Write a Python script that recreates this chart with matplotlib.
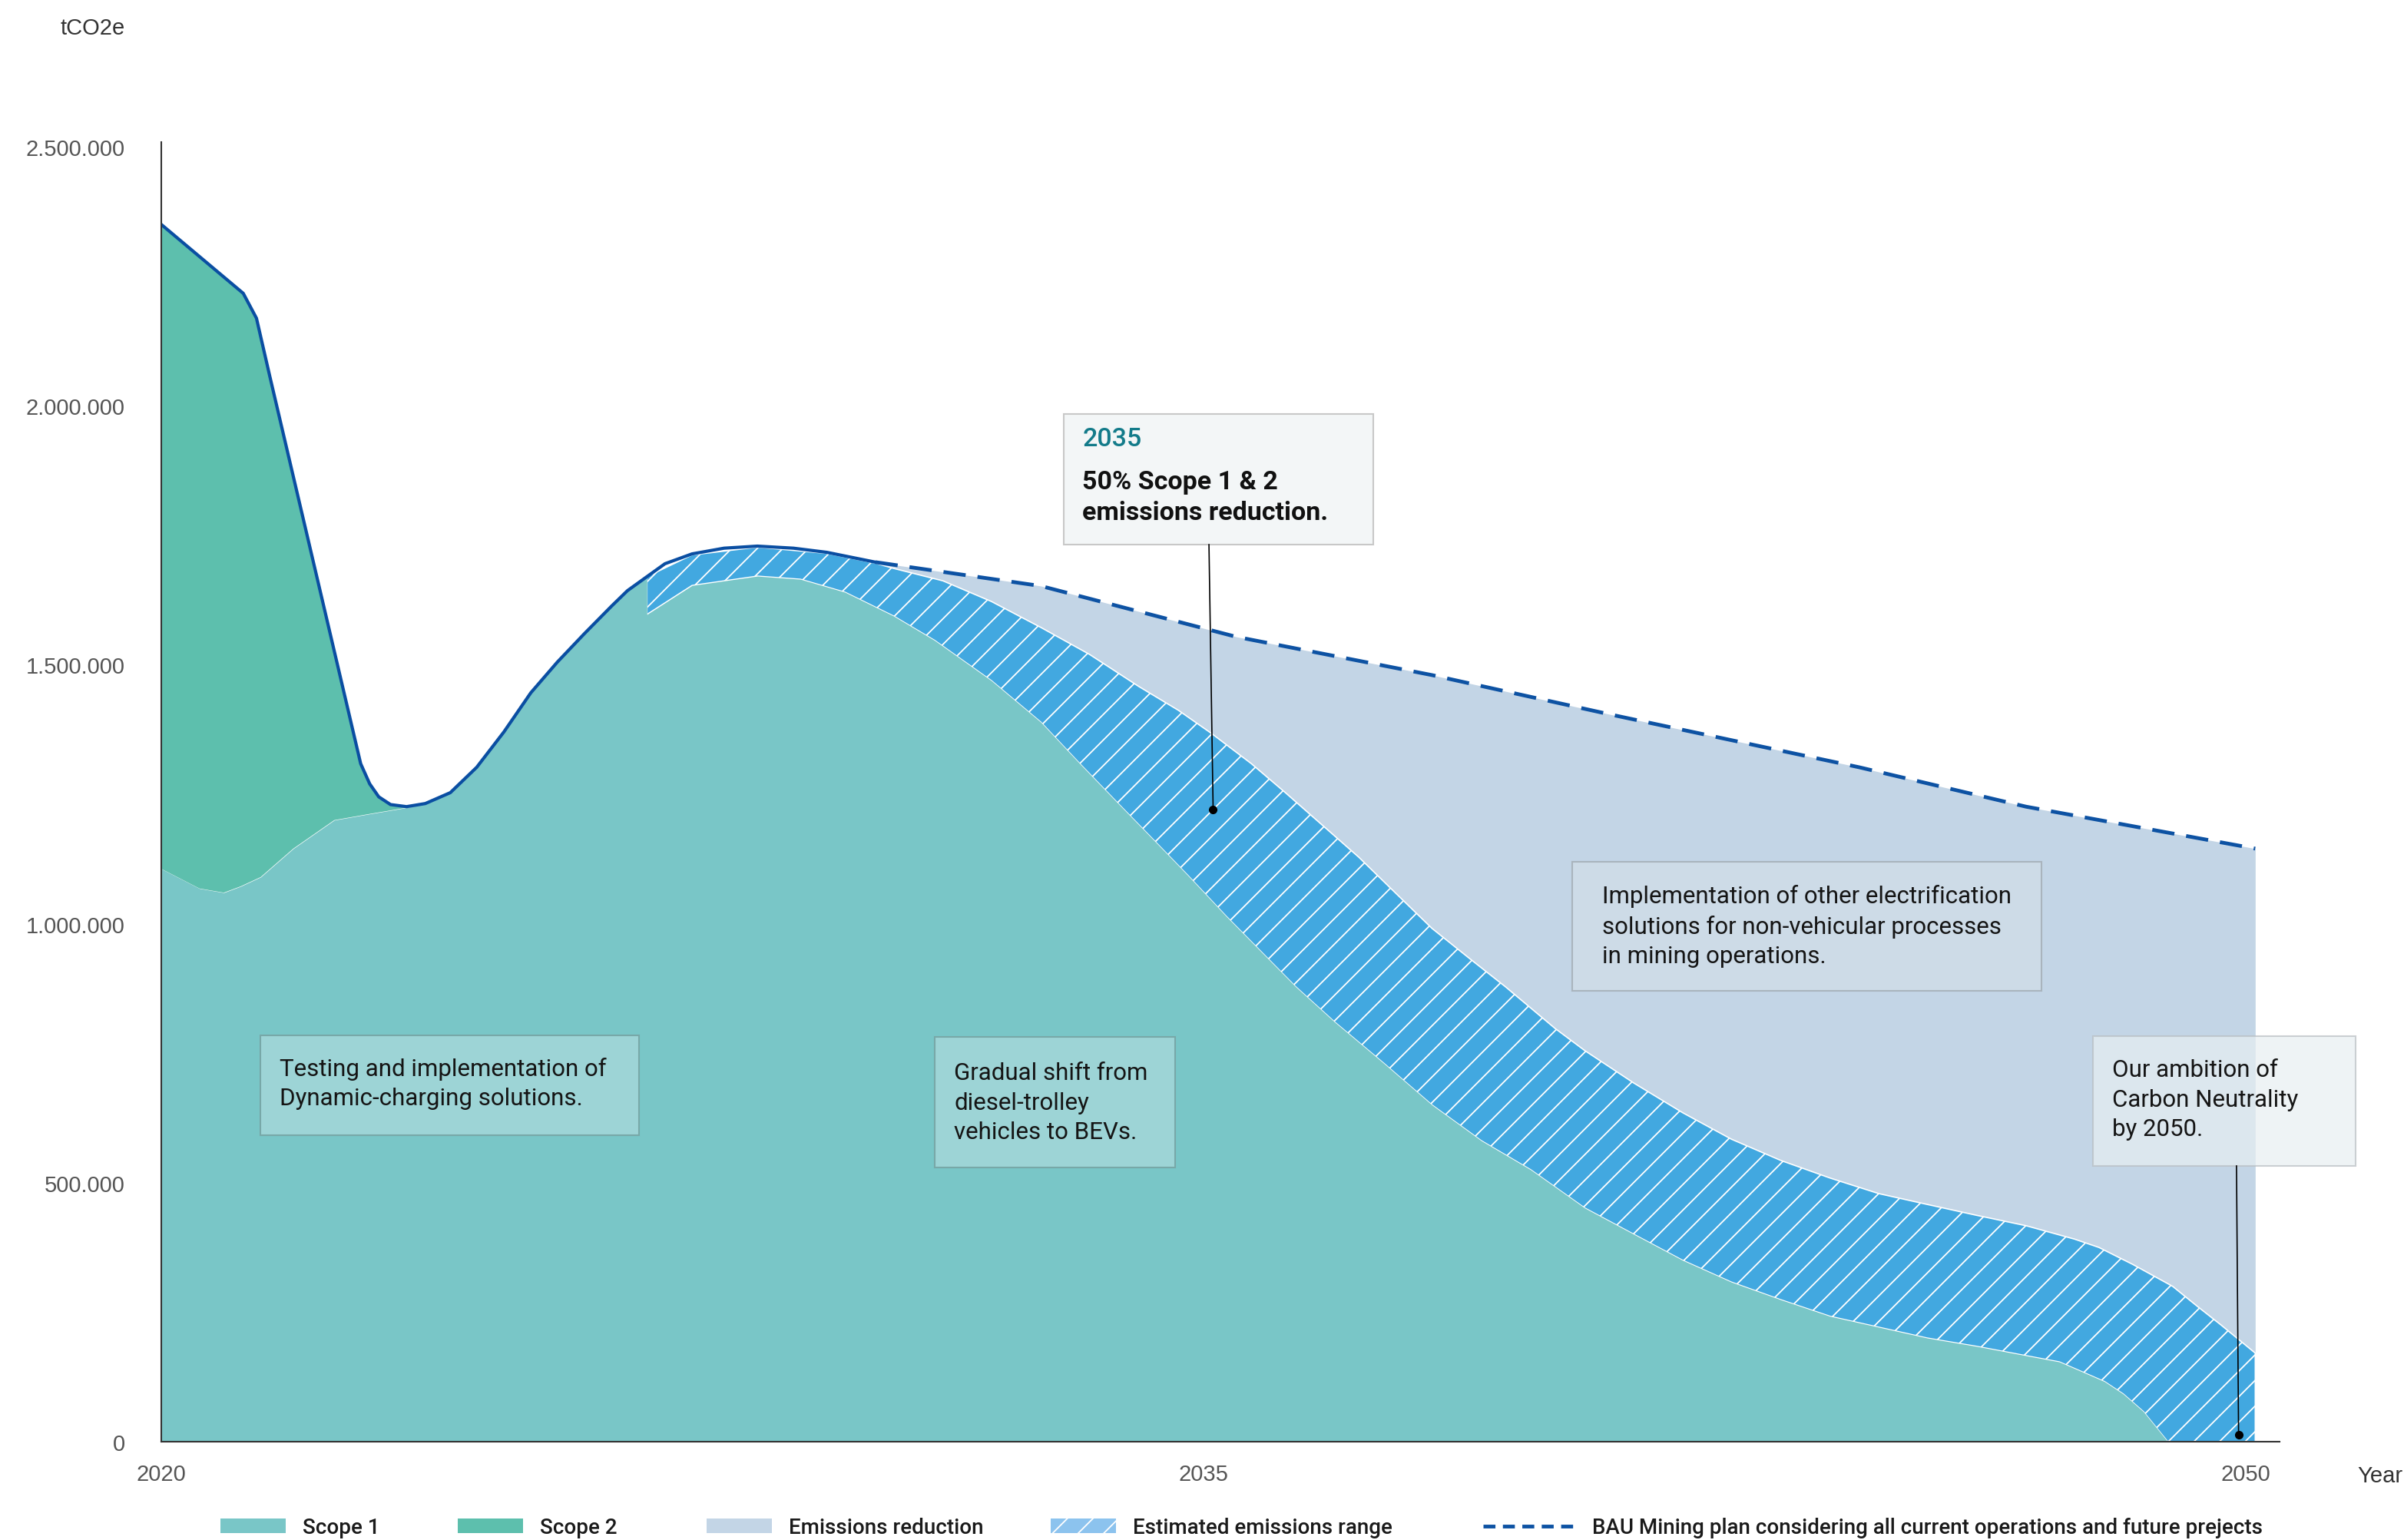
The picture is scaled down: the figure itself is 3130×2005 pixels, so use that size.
import matplotlib
matplotlib.use("Agg")
import matplotlib.pyplot as plt
from matplotlib.patches import Patch, Rectangle
from matplotlib.lines import Line2D

# ---- data (tCO2e, years) ----
total_years = [2020.0, 2021.18, 2021.37, 2021.56, 2022.87, 2023.0, 2023.13, 2023.3, 2023.53,
               2023.8, 2024.16, 2024.54, 2024.93, 2025.32, 2025.7, 2026.09, 2026.48, 2026.71,
               2026.99, 2027.25, 2027.64, 2028.1, 2028.58, 2029.1, 2029.58, 2030.28]
total_vals = [2350000, 2217000, 2169000, 2058000, 1309000, 1270000, 1245000, 1230000, 1226000,
              1232000, 1253000, 1302000, 1370000, 1446000, 1505000, 1560000, 1613000, 1643000,
              1670000, 1695000, 1714000, 1725000, 1729000, 1725000, 1717000, 1698000]

bau_years = [2030.28, 2032.66, 2035.47, 2038.29, 2040.89, 2044.44, 2046.84, 2050.14]
bau_vals = [1698000, 1652000, 1554000, 1480000, 1403000, 1302000, 1226000, 1145000]

scope1_years = [2020.0, 2020.55, 2020.9, 2021.14, 2021.43, 2021.9, 2022.49, 2023.0, 2023.53,
                2023.8, 2024.16, 2024.54, 2024.93, 2025.32, 2025.7, 2026.09, 2026.48, 2026.71,
                2026.99, 2026.99, 2027.64, 2028.58, 2029.2, 2029.84, 2030.54, 2031.13, 2031.95,
                2032.66, 2033.22, 2033.78, 2034.28, 2034.77, 2035.33, 2035.83, 2036.33, 2036.89,
                2037.6, 2038.29, 2039.0, 2039.71, 2040.49, 2041.2, 2041.9, 2042.6, 2043.31,
                2044.02, 2044.72, 2045.42, 2046.13, 2046.84, 2047.32, 2047.68, 2047.97, 2048.24,
                2048.53, 2048.88, 2050.14]
scope1_vals = [1106000, 1068000, 1060000, 1072000, 1090000, 1145000, 1200000, 1212000, 1224000,
               1232000, 1253000, 1302000, 1370000, 1446000, 1505000, 1560000, 1613000, 1643000,
               1670000, 1597000, 1653000, 1671000, 1665000, 1640000, 1594000, 1547000, 1469000,
               1389000, 1309000, 1231000, 1162000, 1094000, 1014000, 946000, 878000, 810000,
               730000, 650000, 581000, 525000, 451000, 400000, 350000, 308000, 274000,
               242000, 221000, 200000, 184000, 166000, 154000, 133000, 116000, 92000,
               58000, 0, 0]

range_years = [2026.99, 2027.64, 2028.58, 2029.58, 2030.28, 2030.54, 2031.25, 2031.95, 2032.66,
               2033.36, 2034.07, 2034.64, 2035.12, 2035.69, 2036.18, 2037.24, 2037.76, 2038.29,
               2038.82, 2039.35, 2040.06, 2040.49, 2041.2, 2041.9, 2042.6, 2043.31, 2044.02,
               2044.72, 2045.42, 2046.13, 2046.84, 2047.54, 2047.89, 2048.38, 2048.95, 2049.3,
               2049.65, 2050.14]
range_upper = [1670000, 1712000, 1727000, 1715000, 1696000, 1686000, 1662000, 1622000, 1572000,
               1520000, 1458000, 1412000, 1367000, 1309000, 1253000, 1128000, 1060000, 991000,
               934000, 878000, 798000, 755000, 692000, 635000, 584000, 543000, 509000,
               479000, 458000, 437000, 417000, 391000, 375000, 342000, 300000, 262000,
               225000, 171000]

y_ticks = [0, 500000, 1000000, 1500000, 2000000, 2500000]
x_ticks = [2020, 2035, 2050]

c_scope1 = "#79c6c7"
c_scope2 = "#5dbfad"
c_reduction = "#c3d5e6"
c_range = "#42a8e0"
c_line = "#0a4ea2"

FONT = ["Roboto", "DejaVu Sans"]
TICKFONT = ["Liberation Sans", "DejaVu Sans"]
plt.rcParams["hatch.linewidth"] = 1.3

fig = plt.figure(figsize=(31.3, 20.06), dpi=100)
ax = fig.add_axes([0.06709, 0.06381, 0.88115, 0.84347])

# emissions reduction (under BAU)
ax.fill_between(bau_years, bau_vals, 0, color=c_reduction, linewidth=0, zorder=1)

# estimated emissions range: hatched band between scope 1 and the upper bound
lower_pts = [(x, y) for x, y in zip(scope1_years, scope1_vals) if x >= 2026.99][1:]
band = list(zip(range_years, range_upper)) + lower_pts[::-1]
ax.fill([p[0] for p in band], [p[1] for p in band], facecolor=c_range, edgecolor="white",
        hatch="/", linewidth=1.2, zorder=2)

# scope 1
ax.fill_between(scope1_years, scope1_vals, 0, color=c_scope1, linewidth=0, zorder=3)

# scope 2 (between scope 1 and total, early years)
n2 = total_years.index(2023.53)
m2 = scope1_years.index(2023.53)
px = total_years[:n2 + 1] + scope1_years[:m2 + 1][::-1]
py = total_vals[:n2 + 1] + scope1_vals[:m2 + 1][::-1]
ax.fill(px, py, color=c_scope2, linewidth=0, zorder=3)

# lines
ax.plot(total_years, total_vals, color=c_line, lw=3, zorder=5, solid_joinstyle="round")
ax.plot(bau_years, bau_vals, color="#0d52a3", lw=3.5, dashes=(6, 3.2), zorder=5)

# axes styling
ax.set_xlim(2020, 2050.49)
ax.set_ylim(0, 2509000)
for s in ["top", "right"]:
    ax.spines[s].set_visible(False)
for s in ["left", "bottom"]:
    ax.spines[s].set_color("#333333")
    ax.spines[s].set_linewidth(1.5)
    ax.spines[s].set_zorder(6)
ax.set_yticks(y_ticks)
ax.set_yticklabels([f"{v:,.0f}".replace(",", ".") for v in y_ticks])
ax.set_xticks(x_ticks)
ax.set_xticklabels([str(v) for v in x_ticks])
ax.tick_params(axis="y", length=0, pad=34, labelsize=21, labelcolor="#555555")
ax.tick_params(axis="x", length=0, pad=20, labelsize=21, labelcolor="#555555")
for lab in ax.get_xticklabels() + ax.get_yticklabels():
    lab.set_family(TICKFONT)

fig.text(0.0521, 0.9816, "tCO2e", ha="right", va="center", fontsize=21, color="#333333",
         family=TICKFONT)
fig.text(0.9994, 0.0419, "Year", ha="right", va="center", fontsize=21, color="#333333",
         family=TICKFONT)


# annotation boxes
def box(x0, x1, y0, y1, face, edge, alpha=1.0):
    ax.add_patch(Rectangle((x0, y0), x1 - x0, y1 - y0, facecolor=face, edgecolor=edge,
                           linewidth=1.5, alpha=alpha, zorder=7, clip_on=False))


def note(x, y, s):
    ax.text(x, y, s, fontsize=22.5, family=FONT, color="#151515",
            va="center", ha="left", linespacing=1.42, zorder=8, clip_on=False)


box(2021.43, 2026.88, 591637, 784401, "#9dd4d6", "#78a8a8")
note(2021.70, 692468, "Testing and implementation of\nDynamic-charging solutions.")

box(2031.13, 2034.59, 529360, 781436, "#9dd4d6", "#78a8a8")
note(2031.41, 655398, "Gradual shift from\ndiesel-trolley\nvehicles to BEVs.")

box(2040.31, 2047.06, 870404, 1119514, "#cddbe7", "#a9b4bd")
note(2040.74, 996442,
     "Implementation of other electrification\nsolutions for non-vehicular processes\nin mining operations.")

box(2032.99, 2037.45, 1731910, 1983986, "#f3f6f7", "#c8c8c8")
ax.text(2033.26, 1936537, "2035", fontsize=24.5, family=FONT, color="#137b8a",
        fontweight="medium", va="center", ha="left", zorder=8)
ax.text(2033.26, 1823844, "50% Scope 1 & 2\nemissions reduction.", fontsize=24.5,
        family=FONT, fontweight="bold", color="#111111", va="center",
        ha="left", linespacing=1.35, zorder=8)
ax.plot([2035.08, 2035.14], [1731910, 1220344], color="black", lw=1.2, zorder=8)
ax.plot([2035.14], [1220344], "o", color="black", ms=7, zorder=8)

box(2047.80, 2051.59, 532325, 782918, "#e8eff2", "#b8bec2", alpha=0.7)
note(2048.08, 661329, "Our ambition of\nCarbon Neutrality\nby 2050.")
ax.plot([2049.87, 2049.90], [532325, 13345], color="black", lw=1.2, zorder=8)
ax.plot([2049.90], [13345], "o", color="black", ms=7, zorder=8, clip_on=False)

# legend: one entry per reference position
legend_items = [
    (287, Patch(facecolor=c_scope1, label="Scope 1")),
    (596, Patch(facecolor=c_scope2, label="Scope 2")),
    (920, Patch(facecolor=c_reduction, label="Emissions reduction")),
    (1368, Patch(facecolor="#8cc3ee", edgecolor="white", hatch="/", linewidth=0,
                 label="Estimated emissions range")),
    (1931, Line2D([0], [0], color="#0d52a3", lw=3.5, dashes=(3.2, 2.0),
                  label="BAU Mining plan considering all current operations and future prejects")),
]
for xpix, h in legend_items:
    hl = 4.3 if isinstance(h, Line2D) else 3.05
    leg = fig.legend(handles=[h], loc="center left", bbox_to_anchor=(xpix / 3130, 16 / 2006),
                     frameon=False, handlelength=hl, handleheight=0.66,
                     handletextpad=0.8, borderpad=0, borderaxespad=0,
                     prop={"family": FONT, "size": 20, "weight": "medium"})
    for t in leg.get_texts():
        t.set_color("#1a1a1a")

fig.savefig("out.png", dpi=100)
